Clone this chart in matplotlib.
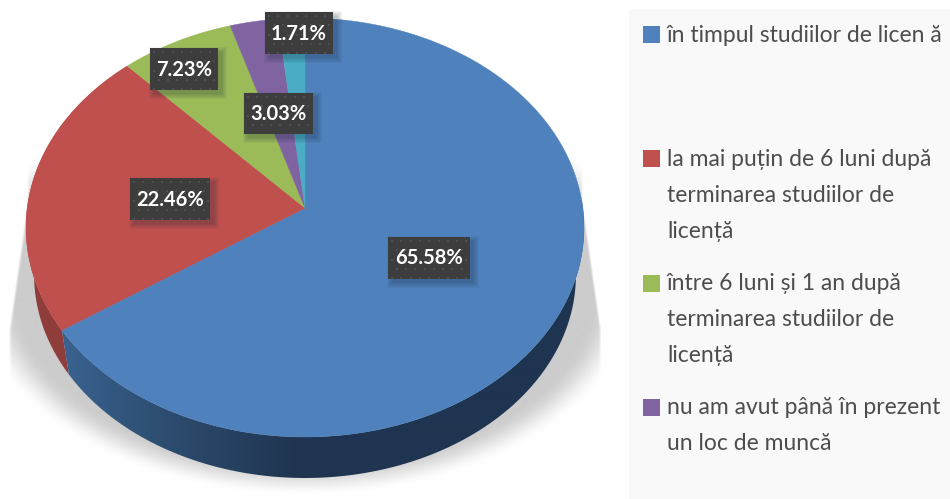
import numpy as np
import matplotlib
matplotlib.use('Agg')
import matplotlib.pyplot as plt
from matplotlib.patches import Rectangle,Polygon

values=[65.58,22.46,7.23,3.03,1.71]
labels=['65.58%','22.46%','7.23%','3.03%','1.71%']
colors=['#4f81bd','#c0504d','#9bbb59','#8064a2','#4bacc6']
legend_names=[['în timpul studiilor de licen ă'],
              ['la mai puțin de 6 luni după','terminarea studiilor de','licență'],
              ['între 6 luni și 1 an după','terminarea studiilor de','licență'],
              ['nu am avut până în prezent','un loc de muncă']]

plt.rcParams['font.family']=['Lato','DejaVu Sans']

def project(t):
    # circle angle (clockwise from top) -> pixel, apex sits above the ellipse centre
    u=np.sin(t)
    v=np.cos(t)
    d=1+0.0931*v
    return 305+277.8*u/d,(208-188.3*v)/d

def lower(x,y):
    return 305+(x-305)*0.971,275+(y-227.5)*0.969

fig=plt.figure(figsize=(9.5,4.99),dpi=100)
ax=fig.add_axes([0,0,1,1])

# shadow under the pie
yy,xx=np.mgrid[0:499,0:625]
r=np.sqrt(((xx-305)/336)**2+((yy-283)/214)**2)
soft=np.clip((1.0-r)/0.14,0,1)
soft=soft*soft*(3-2*soft)
half=np.interp(yy,[205,330,499],[278,296,296])
side=np.clip((half-np.abs(xx-305))/2.5,0,1)
rgba=np.zeros((499,625,4))
rgba[...,:3]=0xcc/255
rgba[...,3]=soft*side
ax.imshow(rgba,extent=(-0.5,624.5,498.5,-0.5),aspect='auto',zorder=1,interpolation='bilinear')

# legend panel
ax.add_patch(Rectangle((629,9),321,490,fc='#f9f9f9',ec='none',zorder=1))

# side wall, gradient runs left to right and is clipped to the rim
edges=np.cumsum([0]+values)/sum(values)*2*np.pi
stops=[60,110,170,235,300,600]
blue_r=[0x3b,0x33,0x2d,0x26,0x1f,0x1e]
blue_g=[0x63,0x58,0x4c,0x40,0x34,0x34]
blue_b=[0x91,0x80,0x6f,0x5f,0x50,0x50]
gx=np.arange(40,600)
grad=np.stack([np.interp(gx,stops,blue_r),np.interp(gx,stops,blue_g),np.interp(gx,stops,blue_b)],axis=-1)/255
ts=np.linspace(np.pi*0.45,edges[1],300)
x0,y0=project(ts)
x1,y1=lower(x0,y0)
wall=Polygon(np.c_[np.r_[x0,x1[::-1]],np.r_[y0,y1[::-1]]],fc='none',ec='none',transform=ax.transData)
ax.add_patch(wall)
im=ax.imshow(grad[np.newaxis,:,:],extent=(40,600,499,200),aspect='auto',zorder=2,interpolation='bilinear')
im.set_clip_path(wall)
ts=np.linspace(edges[1],edges[2],60)
x0,y0=project(ts)
x1,y1=lower(x0,y0)
ax.fill(np.r_[x0,x1[::-1]],np.r_[y0,y1[::-1]],color='#8f3d3b',lw=0,zorder=1.9)

# top surface
for i in range(len(values)):
    ts=np.linspace(edges[i],edges[i+1],200)
    x,y=project(ts)
    ax.fill(np.r_[305,x],np.r_[208,y],color=colors[i],lw=0.3,zorder=3)

# data labels
boxes=[(388,237,82,42),(130,178,80,42),(150,48,68,42),(244,93,69,41),(265,12,68,42)]
for (bx,by,bw,bh),lab in zip(boxes,labels):
    for k in range(1,7):
        ax.add_patch(Rectangle((bx+5-k,by+5-k),bw+2*k-2,bh+2*k-2,fc='#1a2a3a',ec='none',alpha=0.05,zorder=4))
    ax.add_patch(Rectangle((bx,by),bw,bh,fc='#3d3d3d',ec='none',zorder=5))
    px=[]
    py=[]
    for row,dy in enumerate(np.arange(by+4,by+bh,9.3)):
        for dx in np.arange(bx+4+(row%2)*4.6,bx+bw,9.3):
            px.append(dx)
            py.append(dy)
    ax.scatter(px,py,s=3.5,marker='s',c='#4e4e4e',linewidths=0,zorder=6)
    ax.text(bx+bw/2,by+bh/2+0.5,lab,color='white',fontsize=14.5,fontweight='bold',ha='center',va='center',zorder=7)

# legend
ys=[[35],[159,195,231],[284,320,356],[408,444]]
for i,(names,rows) in enumerate(zip(legend_names,ys)):
    ax.add_patch(Rectangle((643,rows[0]-9),17,17,fc=colors[i],ec='none',zorder=2))
    for name,y in zip(names,rows):
        ax.text(667,y,name,color='#4d4d4d',fontsize=16.5,ha='left',va='center',zorder=3)

ax.set_xlim(0,950)
ax.set_ylim(499,0)
ax.axis('off')
fig.savefig('out.png',dpi=100)
